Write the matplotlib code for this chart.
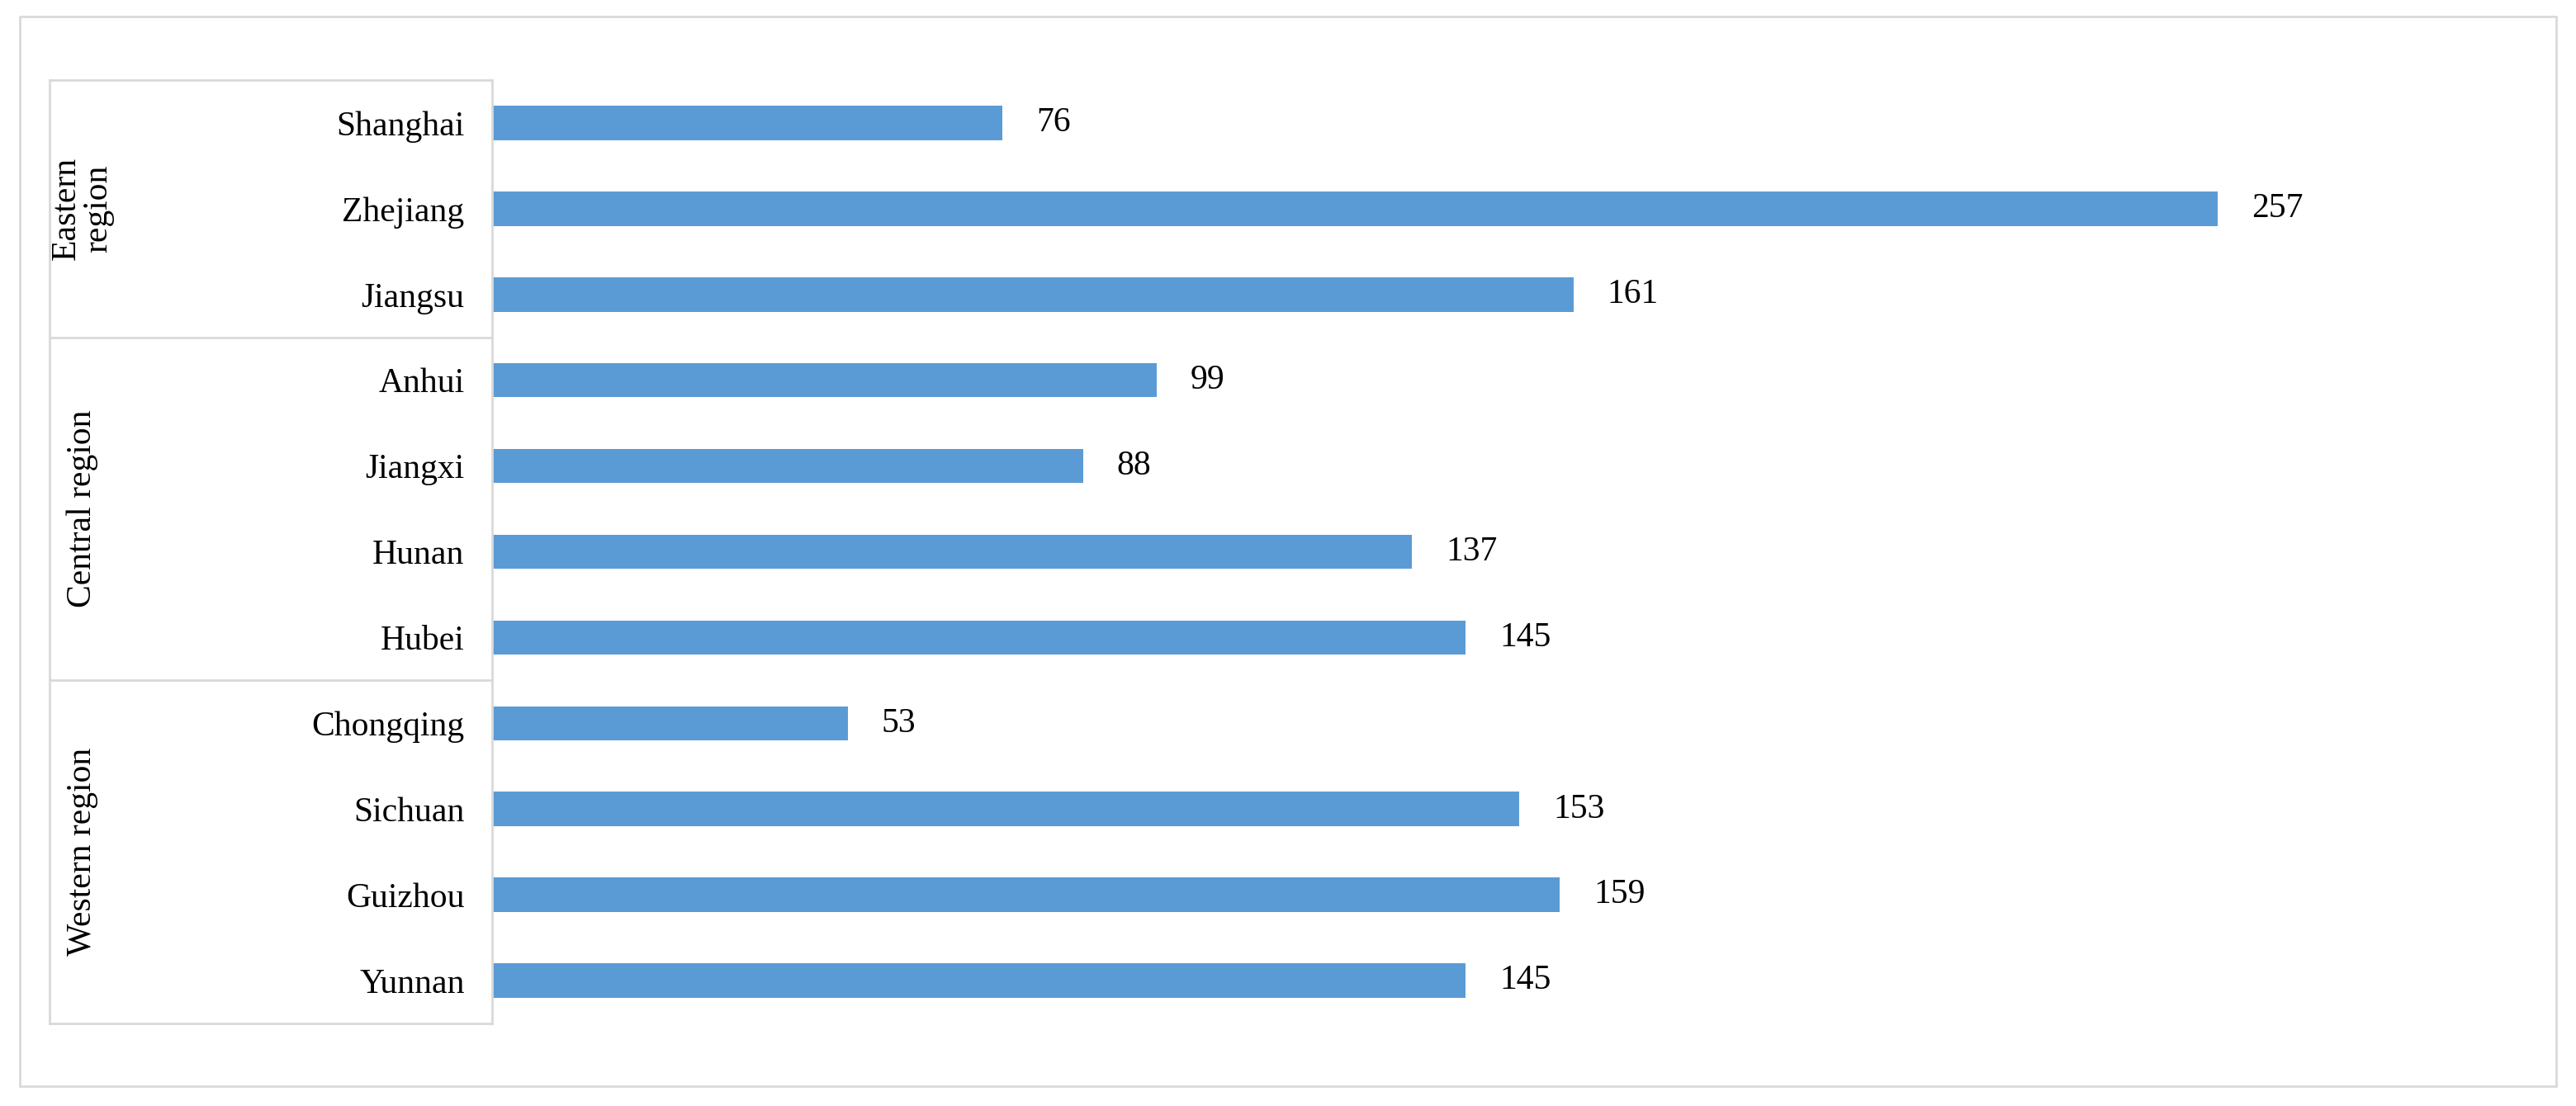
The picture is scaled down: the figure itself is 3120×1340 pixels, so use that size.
import matplotlib
matplotlib.use("Agg")
import matplotlib.pyplot as plt
from matplotlib.lines import Line2D
from matplotlib.patches import Rectangle
import matplotlib.transforms as mtrans

provinces = ["Shanghai", "Zhejiang", "Jiangsu", "Anhui", "Jiangxi", "Hunan", "Hubei",
             "Chongqing", "Sichuan", "Guizhou", "Yunnan"]
values = [76, 257, 161, 99, 88, 137, 145, 53, 153, 159, 145]
groups = [("Eastern\nregion", 0, 2), ("Central region", 3, 6), ("Western region", 7, 10)]

plt.rcParams["font.family"] = ["Liberation Serif", "DejaVu Serif"]
fig = plt.figure(figsize=(31.2, 13.4), dpi=100)
fig.patches.append(Rectangle((24 / 3120, 24 / 1340), 3072 / 3120, 1296 / 1340,
                             transform=fig.transFigure, fill=False, ec="#d9d9d9", lw=2))
ax = fig.add_axes([0.191, 0.0746, 0.730, 0.853])
ypos = list(range(len(provinces)))
ax.barh(ypos, values, height=0.4, color="#5b9bd5")
for y, v in zip(ypos, values):
    ax.text(v + 5, y, str(v), va="center", ha="left", fontsize=30)
ax.set_xlim(0, 280)
ax.set_ylim(10.5, -0.5)
ax.set_yticks(ypos)
ax.set_yticklabels(provinces, fontsize=30)
ax.tick_params(axis="y", length=0, pad=24)
ax.set_xticks([])
for s in ["top", "right", "bottom"]:
    ax.spines[s].set_visible(False)
ax.spines["left"].set_color("#d9d9d9")
ax.spines["left"].set_linewidth(2)

tr = mtrans.blended_transform_factory(fig.transFigure, ax.transData)
xl, xr = 60 / 3120, 0.191
lk = dict(transform=tr, color="#d9d9d9", lw=2, clip_on=False)
for yb in [-0.5, 2.5, 6.5, 10.5]:
    fig.add_artist(Line2D([xl, xr], [yb, yb], **lk))
fig.add_artist(Line2D([xl, xl], [-0.5, 10.5], **lk))
for name, a, b in groups:
    fig.text(0.032, 0, name, transform=tr, rotation=90, ha="center", va="center",
             fontsize=30, linespacing=1.0).set_y((a + b) / 2)

fig.savefig("out.png", dpi=100)
